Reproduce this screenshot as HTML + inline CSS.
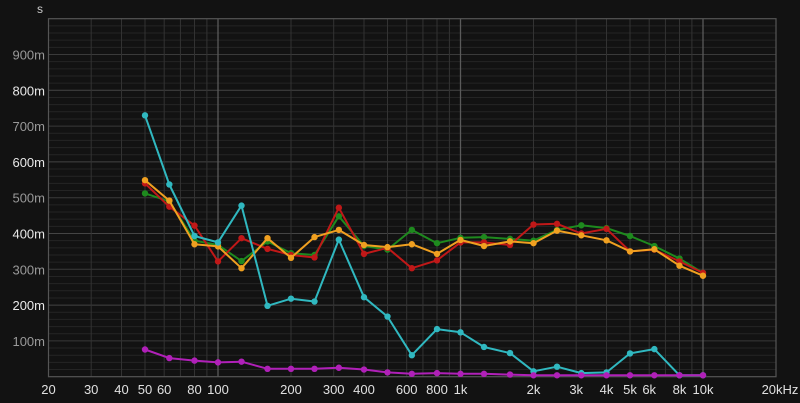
<!DOCTYPE html>
<html><head><meta charset="utf-8"><style>
html,body{margin:0;padding:0;background:#111;}
svg{display:block;font-family:"Liberation Sans",sans-serif;}
</style></head><body>
<svg id="chart" width="800" height="403" viewBox="0 0 800 403">
<rect x="0" y="0" width="800" height="403" fill="#121212"/>
<g id="grid"></g>
<g id="axes"></g>
<g id="series"></g>
<text x="40" y="13" fill="#ccc" font-size="12" text-anchor="middle">s</text>
</svg>
<script>
const freqs=[50,63,80,100,125,160,200,250,315,400,500,630,800,1000,1250,1600,2000,2500,3150,4000,5000,6300,8000,10000];
const cyan=[730,537,393,375,478,198,218,210,383,222,168,60,133,124,83,66,15,28,10,12,65,77,4,4];
const green=[512,490,380,368,323,378,345,340,448,365,355,410,373,388,390,385,380,410,423,415,393,365,330,290];
const red=[540,475,422,322,387,357,340,333,472,343,360,303,325,375,375,368,425,427,400,413,350,355,322,290];
const orange=[549,492,370,364,303,387,332,390,410,368,362,370,343,382,365,378,373,408,395,381,350,356,310,282];
const magenta=[76,52,45,40,42,22,22,22,25,20,12,8,10,8,8,6,4,4,4,4,4,4,4,4];
const xTickVals=[20,30,40,50,60,80,100,200,300,400,600,800,1000,2000,3000,4000,5000,6000,8000,10000,20000];
const xTickLabels=["20","30","40","50","60","80","100","200","300","400","600","800","1k","2k","3k","4k","5k","6k","8k","10k","20kHz"];
const yTickVals=[100,200,300,400,500,600,700,800,900];
const yTickLabels=["100m","200m","300m","400m","500m","600m","700m","800m","900m"];
const NS="http://www.w3.org/2000/svg";
const L=48.5,R=776,T=18.7,B=376.7;
function xs(f){return L+(Math.log10(f)-Math.log10(20))/3*(R-L);}
function ys(v){return B-v/1000*(B-T);}
function mk(tag,attrs,parent){const e=document.createElementNS(NS,tag);for(const k in attrs)e.setAttribute(k,attrs[k]);parent.appendChild(e);return e;}
const grid=document.getElementById('grid'),axes=document.getElementById('axes'),ser=document.getElementById('series');
// minor horizontal
for(let v=20;v<1000;v+=20){
 const major=v%100===0, big=v%200===0;
 const ln=mk('line',{x1:L,x2:R,y1:ys(v),y2:ys(v),stroke:big?'#444':(major?'#3a3a3a':'#242424'),'stroke-width':1},grid);
 
 
}
// vertical grid
const vlines=[];
for(let d=10;d<=10000;d*=10){for(let m=1;m<10;m++){const f=d*m;if(f>=20&&f<=20000)vlines.push(f);}}
vlines.forEach(f=>{
 const dec=[100,1000,10000].includes(f);
 const ln=mk('line',{x1:xs(f),x2:xs(f),y1:T,y2:B,stroke:dec?'#5a5a5a':'#333','stroke-width':dec?1.3:1},grid);
 
 
});
const frame=mk('rect',{x:L,y:T,width:R-L,height:B-T,fill:'none',stroke:'#555','stroke-width':1.2},axes);


yTickVals.forEach((v,i)=>{
 const t=mk('text',{x:45,y:ys(v)+5,fill:(v%200===0)?'#e8e8e8':'#999','font-size':13,'text-anchor':'end'},axes);
 t.textContent=yTickLabels[i];
 
 
});
xTickVals.forEach((f,i)=>{
 const t=mk('text',{x:xs(f)+(f===20000?4:0),y:394,fill:'#e0e0e0','font-size':13,'text-anchor':'middle'},axes);
 t.textContent=xTickLabels[i];
 
 
});
const seriesList=[[green,'#1e8a1e','green'],[red,'#c01818','red'],[orange,'#f0a020','orange'],[cyan,'#30b8c0','cyan'],[magenta,'#b020b8','magenta']];
seriesList.forEach(([vals,col,nm])=>{
 const g=mk('g',{},ser);
 
 
 const pts=vals.map((v,i)=>xs(freqs[i]).toFixed(1)+','+ys(v).toFixed(1)).join(' ');
 const pl=mk('polyline',{points:pts,fill:'none',stroke:col,'stroke-width':2,'stroke-linejoin':'round'},g);
 
 
 vals.forEach((v,i)=>{
  const c=mk('circle',{cx:xs(freqs[i]),cy:ys(v),r:3.2,fill:col},g);
  
  
 });
});
</script>
</body></html>
